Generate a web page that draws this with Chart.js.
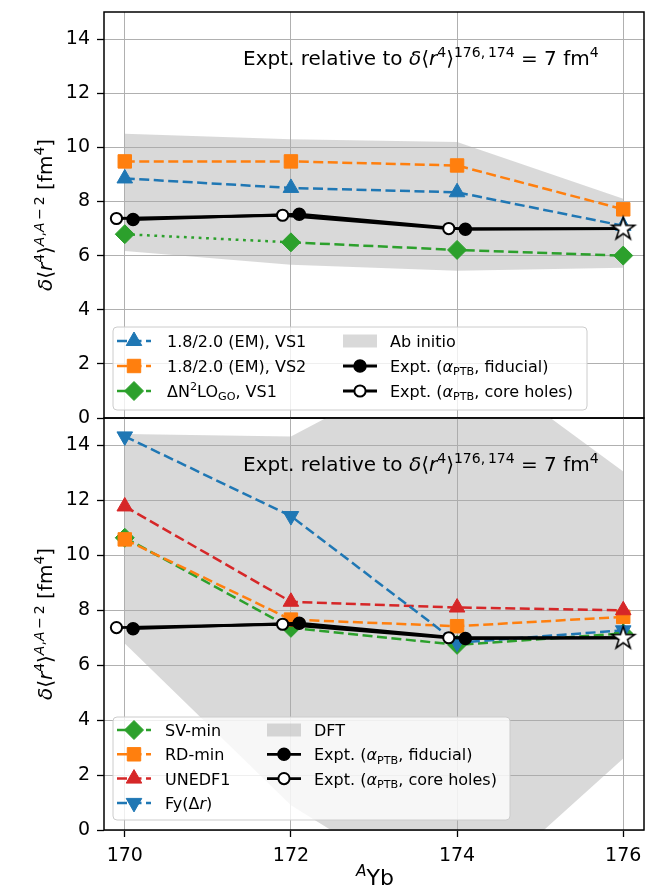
<!DOCTYPE html>
<html>
<head>
<meta charset="utf-8">
<script src="https://cdn.jsdelivr.net/npm/chart.js@4.4.1/dist/chart.umd.min.js"></script>
<style>
  html, body { margin: 0; padding: 0; background: #ffffff; }
  #wrap { position: relative; width: 656px; height: 888px; }
  #wrap canvas { position: absolute; left: 0; top: 0; }
</style>
</head>
<body>
<div id="wrap">
  <canvas id="topPanel" width="656" height="888"></canvas>
  <canvas id="bottomPanel" width="656" height="888"></canvas>
</div>
<script>
// ---- data -------------------------------------------------------------
const isotopes = [170, 172, 174, 176];
const xTicks = [170, 172, 174, 176];
const xTickLabels = ['170', '172', '174', '176'];
const yTicks = [0, 2, 4, 6, 8, 10, 12, 14];
const yTickLabels = ['0', '2', '4', '6', '8', '10', '12', '14'];

// valence-space (ab initio) results
const em18VS1 = [8.85, 8.50, 8.34, 7.10];
const em18VS2 = [9.48, 9.48, 9.33, 7.71];
const dn2loVS1 = [6.79, 6.49, 6.21, 6.00];
const abInitioHigh = [10.50, 10.30, 10.20, 8.10];
const abInitioLow = [6.17, 5.66, 5.44, 5.55];

// density functional results
const svMin = [10.64, 7.36, 6.74, 7.16];
const rdMin = [10.58, 7.66, 7.42, 7.76];
const unedf1 = [11.78, 8.31, 8.10, 8.00];
const fyDr = [14.33, 11.43, 6.82, 7.27];
const dftHigh = [14.42, 14.33, 17.50, 13.05];
const dftLow = [6.79, 0.90, -2.85, 2.60];

// experiment (relative to the 176,174 anchor)
const exptFidX = [170.1, 172.1, 174.1, 176];
const exptFid = [7.33, 7.53, 6.97, 7.00];
const exptCoreX = [169.9, 171.9, 173.9, 176];
const exptCore = [7.37, 7.49, 7.00, 7.00];
const anchorX = [176];
const anchorY = [7.00];

// ---- styling ----------------------------------------------------------
const FONT = '"DejaVu Sans", "Liberation Sans", sans-serif';
const C_BLUE = '#1f77b4', C_ORANGE = '#ff7f0e', C_GREEN = '#2ca02c', C_RED = '#d62728';
const BAND = 'rgba(170,170,170,0.45)';
const LW = 2.5;
const DASH = [10, 4.5];
const DOT = [2.8, 4.6];

function pts(xs, ys) { return xs.map((x, i) => ({ x: x, y: ys[i] })); }

function makeStar(R) {
  const c = document.createElement('canvas');
  const s = Math.ceil(R * 2 + 6);
  c.width = s; c.height = s;
  const g = c.getContext('2d');
  const cx = s / 2, cy = s / 2 + 0.5, r = R * 0.382;
  g.beginPath();
  for (let k = 0; k < 10; k++) {
    const a = -Math.PI / 2 + k * Math.PI / 5;
    const rr = k % 2 ? r : R;
    g.lineTo(cx + rr * Math.cos(a), cy + rr * Math.sin(a));
  }
  g.closePath();
  g.fillStyle = '#ffffff'; g.fill();
  g.lineWidth = 1.6; g.strokeStyle = '#000000'; g.lineJoin = 'miter'; g.stroke();
  return c;
}
const STAR = makeStar(12);

// marker shapes for the legend (same geometry as Chart.js point styles)
function marker(ctx, style, x, y, r, rot) {
  ctx.beginPath();
  if (style === 'circle') {
    ctx.arc(x, y, r, 0, Math.PI * 2);
  } else if (style === 'triangle') {
    let a = (rot || 0) * Math.PI / 180;
    for (let k = 0; k < 3; k++) {
      ctx.lineTo(x + Math.sin(a) * r, y - Math.cos(a) * r);
      a += 2 * Math.PI / 3;
    }
  } else if (style === 'rect') {
    const h = r * Math.SQRT1_2;
    ctx.rect(x - h, y - h, 2 * h, 2 * h);
  } else if (style === 'rectRot') {
    ctx.moveTo(x - r, y); ctx.lineTo(x, y - r); ctx.lineTo(x + r, y); ctx.lineTo(x, y + r);
  }
  ctx.closePath();
  ctx.fill();
  ctx.stroke();
}

// ---- rich text (super/subscripts, italics) ----------------------------
function fontOf(p, size) {
  return (p.it ? 'italic ' : '') + (size * (p.s || 1)).toFixed(2) + 'px ' + FONT;
}
function richWidth(ctx, parts, size) {
  let w = 0;
  for (const p of parts) { ctx.font = fontOf(p, size); w += ctx.measureText(p.t).width; }
  return w;
}
function drawRich(ctx, parts, x, y, size, align) {
  const w = richWidth(ctx, parts, size);
  let cx = align === 'center' ? x - w / 2 : (align === 'right' ? x - w : x);
  ctx.textAlign = 'left';
  ctx.textBaseline = 'alphabetic';
  for (const p of parts) {
    ctx.font = fontOf(p, size);
    ctx.fillText(p.t, cx, y + (p.dy || 0) * size);
    cx += ctx.measureText(p.t).width;
  }
}
const T = (t) => ({ t: t });
const I = (t) => ({ t: t, it: true });
const SUP = (t) => ({ t: t, s: 0.7, dy: -0.42 });
const SUPI = (t) => ({ t: t, it: true, s: 0.7, dy: -0.42 });
const SUB = (t) => ({ t: t, s: 0.7, dy: 0.2 });

const annotationText = [T('Expt. relative to '), I('δ'), T('⟨'), I('r'), SUP('4'), T('⟩'),
  SUP('176,\u2009174'), T(' = 7 fm'), SUP('4')];
const yLabelText = [I('δ'), T('⟨'), I('r'), SUP('4'), T('⟩'),
  SUPI('A'), SUP(','), SUPI('A'), SUP('\u2009−\u20092'), T(' [fm'), SUP('4'), T(']')];
const xLabelText = [SUPI('A'), T('Yb')];
const fiducialText = [T('Expt. ('), I('α'), SUB('PTB'), T(', fiducial)')];
const coreText = [T('Expt. ('), I('α'), SUB('PTB'), T(', core holes)')];

// ---- dataset builders ---------------------------------------------------
function bandSets(high, low, color) {
  return [
    { data: pts(isotopes, high), borderWidth: 0, pointRadius: 0, fill: '+1', backgroundColor: color, borderColor: 'rgba(0,0,0,0)' },
    { data: pts(isotopes, low), borderWidth: 0, pointRadius: 0, fill: false, borderColor: 'rgba(0,0,0,0)' }
  ];
}
function seriesSet(ys, color, style, r, extra) {
  return Object.assign({
    data: pts(isotopes, ys), borderColor: color, backgroundColor: color, borderWidth: LW,
    borderDash: DASH, pointStyle: style, pointRadius: r, pointBackgroundColor: color,
    pointBorderColor: color, pointBorderWidth: 1, fill: false
  }, extra || {});
}
function exptSets() {
  return [
    { data: pts(exptFidX, exptFid), borderColor: '#000', borderWidth: 2.8, pointStyle: 'circle',
      pointRadius: exptFid.map((v, i) => (i === exptFid.length - 1 ? 0 : 6)),
      pointBackgroundColor: '#000', pointBorderColor: '#000', pointBorderWidth: 1.5, fill: false },
    { data: pts(exptCoreX, exptCore), borderColor: '#000', borderWidth: 2.8, pointStyle: 'circle',
      pointRadius: exptCore.map((v, i) => (i === exptCore.length - 1 ? 0 : 5.6)),
      pointBackgroundColor: '#fff', pointBorderColor: '#000', pointBorderWidth: 2, fill: false },
    { data: pts(anchorX, anchorY), showLine: false, pointStyle: STAR, pointRadius: 12, borderWidth: 0, fill: false }
  ];
}
function ordered(list) {
  list.forEach((d, i) => { d.order = -i; d.tension = 0; });
  return list;
}

// ---- panel decorations -----------------------------------------------
function drawLegend(ctx, box, entries) {
  ctx.save();
  ctx.beginPath();
  const r = 4;
  ctx.moveTo(box.x + r, box.y);
  ctx.arcTo(box.x + box.w, box.y, box.x + box.w, box.y + box.h, r);
  ctx.arcTo(box.x + box.w, box.y + box.h, box.x, box.y + box.h, r);
  ctx.arcTo(box.x, box.y + box.h, box.x, box.y, r);
  ctx.arcTo(box.x, box.y, box.x + box.w, box.y, r);
  ctx.closePath();
  ctx.fillStyle = 'rgba(255,255,255,0.8)';
  ctx.fill();
  ctx.strokeStyle = '#cccccc';
  ctx.lineWidth = 1;
  ctx.stroke();
  for (const e of entries) {
    const col = box.cols[e.col];
    const cy = box.rowY + e.row * box.rowStep;
    const hx0 = col.hx - 17, hx1 = col.hx + 17;
    if (e.kind === 'patch') {
      ctx.fillStyle = BAND;
      ctx.fillRect(hx0, cy - 6.5, hx1 - hx0, 13);
    } else {
      ctx.beginPath();
      ctx.setLineDash(e.dash || []);
      ctx.lineWidth = e.lw || LW;
      ctx.strokeStyle = e.color;
      ctx.moveTo(hx0, cy); ctx.lineTo(hx1, cy);
      ctx.stroke();
      ctx.setLineDash([]);
      ctx.fillStyle = e.fill || e.color;
      ctx.strokeStyle = e.edge || e.color;
      ctx.lineWidth = e.ew || 1;
      marker(ctx, e.marker, col.hx, cy, e.r, e.rot);
    }
    ctx.fillStyle = '#000';
    drawRich(ctx, e.text, col.tx, cy + 6, 16, 'left');
  }
  ctx.restore();
}

function panelPlugin(cfg) {
  return {
    id: 'panelDecor',
    afterDatasetsDraw(chart) {
      const a = chart.chartArea, ctx = chart.ctx;
      ctx.save();
      ctx.strokeStyle = '#000';
      ctx.lineWidth = 1.5;
      ctx.strokeRect(a.left, a.top, a.right - a.left, a.bottom - a.top);
      ctx.restore();
    },
    afterDraw(chart) {
      const a = chart.chartArea, ctx = chart.ctx;
      ctx.save();
      ctx.fillStyle = '#000';
      drawRich(ctx, annotationText, 243, a.top + 53, 20, 'left');
      // y-axis title
      ctx.translate(52, (a.top + a.bottom) / 2);
      ctx.rotate(-Math.PI / 2);
      drawRich(ctx, yLabelText, 0, 0, 20, 'center');
      ctx.restore();
      if (cfg.xLabel) {
        ctx.save();
        ctx.fillStyle = '#000';
        drawRich(ctx, xLabelText, 375, 885, 22, 'center');
        ctx.restore();
      }
      drawLegend(ctx, cfg.legendBox, cfg.legend);
    }
  };
}

function panelOptions(isBottom, pad) {
  return {
    responsive: false,
    animation: false,
    devicePixelRatio: 1,
    events: [],
    layout: { padding: pad },
    plugins: { legend: { display: false }, tooltip: { enabled: false } },
    scales: {
      x: {
        type: 'linear', min: 169.75, max: 176.25,
        afterBuildTicks: (s) => { s.ticks = xTicks.map((v) => ({ value: v })); },
        afterFit: (s) => { s.height = isBottom ? 58 : 0; s.paddingLeft = 0; s.paddingRight = 0; },
        border: { display: false },
        grid: { color: '#b0b0b0', lineWidth: 1, tickColor: '#000', tickLength: 7, tickWidth: 1.3, drawTicks: isBottom },
        ticks: { display: isBottom, padding: 8, color: '#000', font: { family: FONT, size: 19 },
                 callback: (v, i) => xTickLabels[i] }
      },
      y: {
        type: 'linear', min: 0, max: 15,
        afterBuildTicks: (s) => { s.ticks = yTicks.map((v) => ({ value: v })); },
        afterFit: (s) => { s.width = 104; s.paddingTop = 0; s.paddingBottom = 0; },
        border: { display: false },
        grid: { color: '#b0b0b0', lineWidth: 1, tickColor: '#000', tickLength: 7, tickWidth: 1.3 },
        ticks: { padding: 7, color: '#000', font: { family: FONT, size: 19 },
                 callback: (v, i) => yTickLabels[i] }
      }
    }
  };
}

const fidLegend = { kind: 'line', color: '#000', lw: 2.8, marker: 'circle', r: 6, fill: '#000', edge: '#000', ew: 1.5, text: fiducialText };
const coreLegend = { kind: 'line', color: '#000', lw: 2.8, marker: 'circle', r: 5.6, fill: '#fff', edge: '#000', ew: 2, text: coreText };

// ---- top panel: ab initio ------------------------------------------------
new Chart(document.getElementById('topPanel'), {
  type: 'line',
  data: {
    datasets: ordered([].concat(
      bandSets(abInitioHigh, abInitioLow, BAND),
      [
        seriesSet(em18VS1, C_BLUE, 'triangle', 9),
        seriesSet(em18VS2, C_ORANGE, 'rect', 9.5),
        seriesSet(dn2loVS1, C_GREEN, 'rectRot', 9.5, {
          segment: { borderDash: (c) => (c.p0DataIndex === 0 ? DOT : DASH) }
        })
      ],
      exptSets()
    ))
  },
  options: panelOptions(false, { top: 8, right: 3, bottom: 470, left: 0 }),
  plugins: [panelPlugin({
    xLabel: false,
    legendBox: { x: 113, y: 327, w: 474, h: 83, rowY: 341, rowStep: 25,
                 cols: [{ hx: 134, tx: 167 }, { hx: 360, tx: 390 }] },
    legend: [
      { col: 0, row: 0, kind: 'line', color: C_BLUE, dash: DASH, marker: 'triangle', r: 9, text: [T('1.8/2.0 (EM), VS1')] },
      { col: 0, row: 1, kind: 'line', color: C_ORANGE, dash: DASH, marker: 'rect', r: 9.5, text: [T('1.8/2.0 (EM), VS2')] },
      { col: 0, row: 2, kind: 'line', color: C_GREEN, dash: DASH, marker: 'rectRot', r: 9.5,
        text: [T('ΔN'), SUP('2'), T('LO'), SUB('GO'), T(', VS1')] },
      { col: 1, row: 0, kind: 'patch', text: [T('Ab initio')] },
      Object.assign({ col: 1, row: 1 }, fidLegend),
      Object.assign({ col: 1, row: 2 }, coreLegend)
    ]
  })]
});

// ---- bottom panel: DFT -------------------------------------------------
new Chart(document.getElementById('bottomPanel'), {
  type: 'line',
  data: {
    datasets: ordered([].concat(
      bandSets(dftHigh, dftLow, BAND),
      [
        seriesSet(svMin, C_GREEN, 'rectRot', 9.5),
        seriesSet(rdMin, C_ORANGE, 'rect', 9.5),
        seriesSet(unedf1, C_RED, 'triangle', 9),
        seriesSet(fyDr, C_BLUE, 'triangle', 9, { pointRotation: 180 })
      ],
      exptSets()
    ))
  },
  options: panelOptions(true, { top: 418, right: 3, bottom: 0, left: 0 }),
  plugins: [panelPlugin({
    xLabel: true,
    legendBox: { x: 113, y: 717, w: 397, h: 103, rowY: 730, rowStep: 24.3,
                 cols: [{ hx: 134, tx: 165 }, { hx: 284, tx: 314 }] },
    legend: [
      { col: 0, row: 0, kind: 'line', color: C_GREEN, dash: DASH, marker: 'rectRot', r: 9.5, text: [T('SV-min')] },
      { col: 0, row: 1, kind: 'line', color: C_ORANGE, dash: DASH, marker: 'rect', r: 9.5, text: [T('RD-min')] },
      { col: 0, row: 2, kind: 'line', color: C_RED, dash: DASH, marker: 'triangle', r: 9, text: [T('UNEDF1')] },
      { col: 0, row: 3, kind: 'line', color: C_BLUE, dash: DASH, marker: 'triangle', r: 9, rot: 180,
        text: [T('Fy(Δ'), I('r'), T(')')] },
      { col: 1, row: 0, kind: 'patch', text: [T('DFT')] },
      Object.assign({ col: 1, row: 1 }, fidLegend),
      Object.assign({ col: 1, row: 2 }, coreLegend)
    ]
  })]
});
</script>
</body>
</html>
